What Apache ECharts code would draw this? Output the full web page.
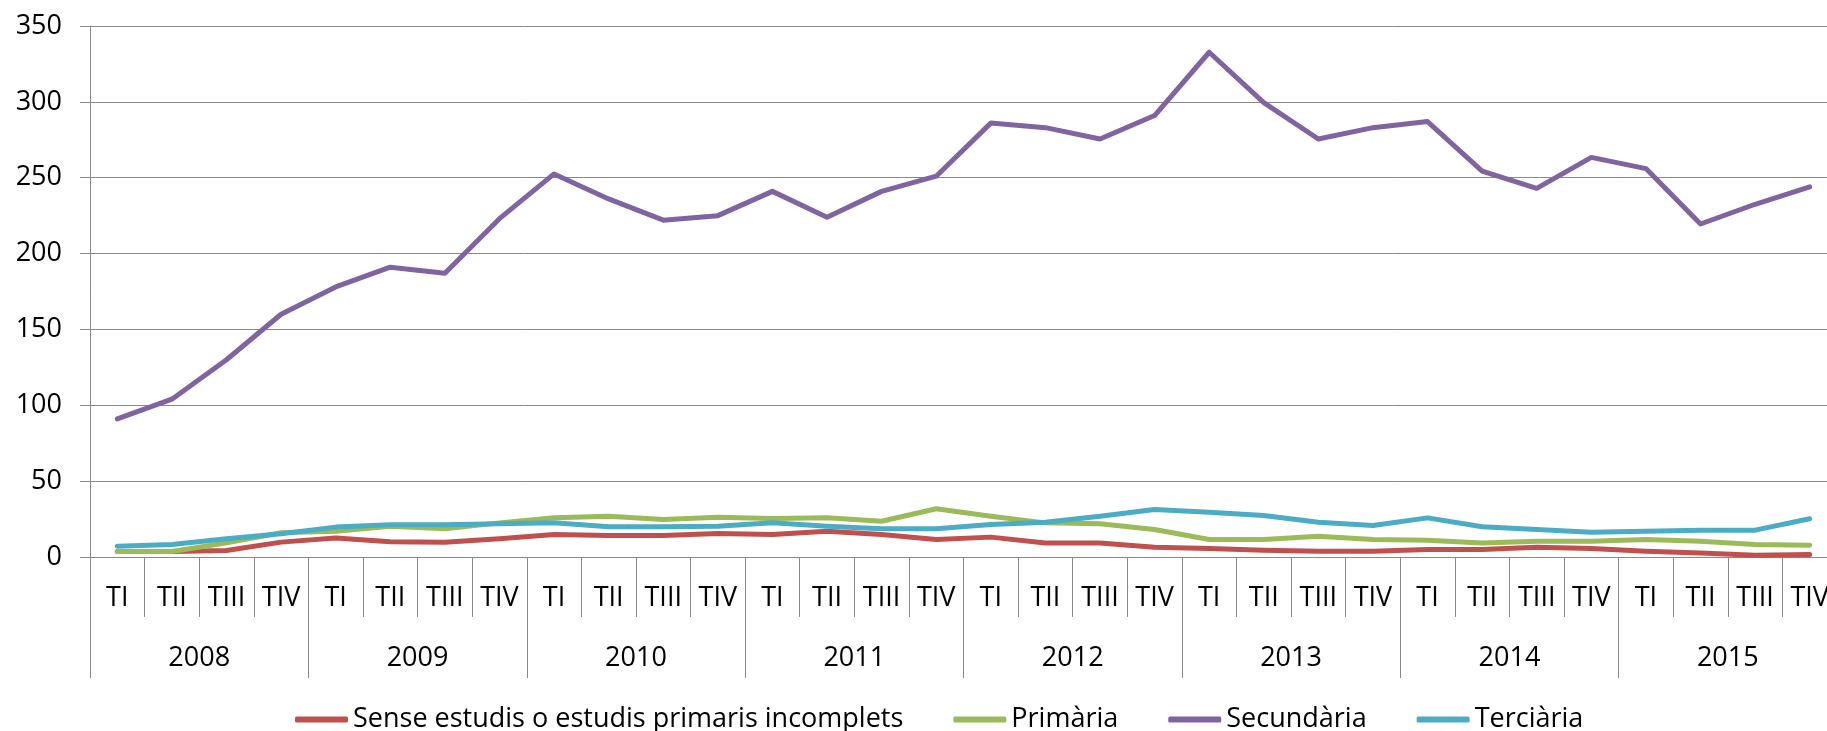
<!DOCTYPE html>
<html>
<head>
<meta charset="utf-8">
<script src="https://cdn.jsdelivr.net/npm/echarts@6/dist/echarts.min.js"></script>
<style>html,body{margin:0;padding:0;background:#fff;}#c{width:1827px;height:731px;}</style>
</head>
<body>
<div id="c"></div>
<script>
const years = ['2008','2009','2010','2011','2012','2013','2014','2015'];
const quarters = ['TI','TII','TIII','TIV'];
const categories = [];
years.forEach(function(){ quarters.forEach(function(q){ categories.push(q); }); });

const seriesNames = ['Sense estudis o estudis primaris incomplets','Primària','Secundària','Terciària'];
const senseEstudis = [3.6,3.6,4.3,9.8, 12.6,10.0,9.8,12.0, 14.8,14.2,14.2,15.5, 14.8,17.0,14.8,11.5, 13.1,9.3,9.3,6.5, 5.6,4.5,3.8,3.8, 4.9,4.9,6.5,5.6, 3.8,2.7,1.2,1.6];
const primaria = [3.6,3.6,9.3,16.0, 17.0,20.3,18.6,22.5, 25.8,26.9,24.7,26.2, 25.4,25.8,23.6,31.8, 26.9,22.5,21.9,18.1, 11.5,11.5,13.7,11.5, 11.1,9.3,10.4,10.4, 11.5,10.4,8.2,7.8];
const secundaria = [91,104,130,160, 178,191,187,223, 252.5,236,222,225, 241,224,241,251, 286,283,275.5,291, 332.7,299.5,275.5,283, 287,254.4,243,263.4, 256,219.5,232.5,244];
const terciaria = [7.1,8.2,12.0,15.3, 19.7,21.2,21.2,21.9, 22.5,19.9,19.9,20.3, 22.5,20.3,18.6,18.6, 21.4,22.9,26.9,31.3, 29.5,27.4,22.9,20.8, 25.8,19.9,18.1,16.3, 17.0,17.7,17.7,25.2];
const colors = ['#C0504D','#9BBB59','#8064A2','#4BACC6'];
const yTicks = {min:0, max:350, interval:50};

const FONT = 'Open Sans';
const FS = 27;
const GRAY = '#898989';
const gridBox = {left:90, top:26, width:1747, height:531, outerBoundsMode:'none', containLabel:false};

const chart = echarts.init(document.getElementById('c'), null, {renderer:'canvas'});
const data = [senseEstudis, primaria, secundaria, terciaria];
chart.setOption({
  animation:false,
  backgroundColor:'#fff',
  textStyle:{fontFamily:FONT},
  grid:[Object.assign({}, gridBox), Object.assign({}, gridBox)],
  legend:{
    left:290, top:701,
    itemWidth:53, itemHeight:6, itemGap:50,
    icon:'roundRect',
    textStyle:{fontFamily:FONT, fontSize:FS, color:'#000'},
    data:seriesNames
  },
  xAxis:[
    {type:'category', gridIndex:0, data:categories, boundaryGap:true,
     axisLine:{show:true, lineStyle:{color:GRAY, width:1}},
     axisTick:{show:true, length:60, interval:0, lineStyle:{color:GRAY, width:1}},
     axisLabel:{interval:0, margin:28, fontSize:FS, color:'#000', fontFamily:FONT},
     splitLine:{show:false}},
    {type:'category', gridIndex:1, data:years, boundaryGap:true, position:'bottom',
     axisLine:{show:false},
     axisTick:{show:true, length:121, interval:0, lineStyle:{color:GRAY, width:1}},
     axisLabel:{interval:0, margin:88, fontSize:FS, color:'#000', fontFamily:FONT},
     splitLine:{show:false}}
  ],
  yAxis:[
    {type:'value', gridIndex:0, min:yTicks.min, max:yTicks.max, interval:yTicks.interval,
     axisLine:{show:true, lineStyle:{color:GRAY, width:1}},
     axisTick:{show:true, length:10, lineStyle:{color:GRAY, width:1}},
     axisLabel:{margin:28, fontSize:FS, color:'#000', fontFamily:FONT},
     splitLine:{show:true, lineStyle:{color:GRAY, width:1}}},
    {type:'value', gridIndex:1, min:0, max:350, show:false}
  ],
  series: seriesNames.map(function(n,i){
    return {name:n, type:'line', xAxisIndex:0, yAxisIndex:0, data:data[i],
      symbol:'none', showSymbol:false, smooth:false,
      lineStyle:{color:colors[i], width:5, cap:'round', join:'round'},
      itemStyle:{color:colors[i]}, z: (i===2?3:2)};
  })
});
</script>
</body>
</html>
